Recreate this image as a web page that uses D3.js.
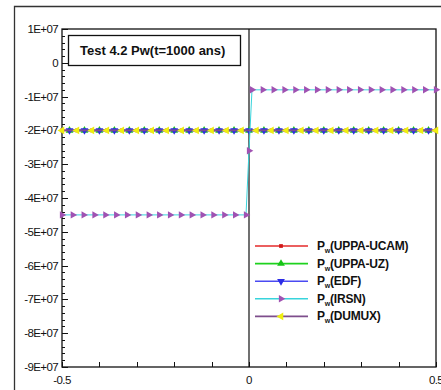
<!DOCTYPE html>
<html>
<head>
<meta charset="utf-8">
<script src="https://cdn.jsdelivr.net/npm/d3@7"></script>
<style>
body { margin: 0; background: #fff; }
text { font-family: Arial, "Liberation Sans", sans-serif; }
</style>
</head>
<body>
<div class="chart"></div>
<script>
// values
var xTicks = [-0.5, -0.4, -0.3, -0.2, -0.1, 0, 0.1, 0.2, 0.3, 0.4, 0.5];
var xLabels = ["-0.5", "0", "0.5"];
var yLabels = ["1E+07", "0", "-1E+07", "-2E+07", "-3E+07", "-4E+07", "-5E+07", "-6E+07", "-7E+07", "-8E+07", "-9E+07"];
var yMajor = [1e7, 0, -1e7, -2e7, -3e7, -4e7, -5e7, -6e7, -7e7, -8e7, -9e7];

var gridA = [-0.5, -0.46, -0.42, -0.38, -0.34, -0.3, -0.26, -0.22, -0.18, -0.14, -0.1, -0.06, -0.02,
             0.02, 0.06, 0.1, 0.14, 0.18, 0.22, 0.26, 0.3, 0.34, 0.38, 0.42, 0.46, 0.5];
var gridB = [-0.48, -0.44, -0.4, -0.36, -0.32, -0.28, -0.24, -0.2, -0.16, -0.12, -0.08, -0.04, 0,
             0.04, 0.08, 0.12, 0.16, 0.2, 0.24, 0.28, 0.32, 0.36, 0.4, 0.44, 0.48];
var pConst = [-2e7, -2e7, -2e7, -2e7, -2e7, -2e7, -2e7, -2e7, -2e7, -2e7, -2e7, -2e7, -2e7,
              -2e7, -2e7, -2e7, -2e7, -2e7, -2e7, -2e7, -2e7, -2e7, -2e7, -2e7, -2e7, -2e7];

var irsnX = [-0.5, -0.471, -0.442, -0.413, -0.384, -0.355, -0.326, -0.297, -0.268, -0.240, -0.211,
             -0.182, -0.153, -0.124, -0.095, -0.066, -0.037, -0.008, 0,
             0.008, 0.037, 0.066, 0.095, 0.124, 0.153, 0.182, 0.211, 0.240, 0.268, 0.297, 0.326,
             0.355, 0.384, 0.413, 0.442, 0.471, 0.5];
var irsnP = [-4.5e7, -4.5e7, -4.5e7, -4.5e7, -4.5e7, -4.5e7, -4.5e7, -4.5e7, -4.5e7, -4.5e7, -4.5e7,
             -4.5e7, -4.5e7, -4.5e7, -4.5e7, -4.5e7, -4.5e7, -4.5e7, -2.6e7,
             -0.8e7, -0.8e7, -0.8e7, -0.8e7, -0.8e7, -0.8e7, -0.8e7, -0.8e7, -0.8e7, -0.8e7, -0.8e7, -0.8e7,
             -0.8e7, -0.8e7, -0.8e7, -0.8e7, -0.8e7, -0.8e7];

var seriesNames = ["UPPA-UCAM", "UPPA-UZ", "EDF", "IRSN", "DUMUX"];

var series = [
  {name: seriesNames[0], xs: gridA, ys: pConst, line: "#e42a2a", mark: "#d01818", sym: "square", ms: 14, lw: 1.6},
  {name: seriesNames[1], xs: gridB, ys: pConst, line: "#1ed21e", mark: "#16c416", sym: "up", ms: 26, lw: 1.6},
  {name: seriesNames[2], xs: gridB, ys: pConst, line: "#4a4af2", mark: "#2c2ce6", sym: "down", ms: 26, lw: 1.6},
  {name: seriesNames[3], xs: irsnX, ys: irsnP, line: "#38d4dc", mark: "#a052b2", sym: "right", ms: 24, lw: 1},
  {name: seriesNames[4], xs: gridA, ys: pConst, line: "#7e4e8c", mark: "#eeee10", sym: "left", ms: 26, lw: 1.6}
];

var svg = d3.select(".chart").append("svg")
    .attr("width", 441)
    .attr("height", 390);

var x = d3.scaleLinear().domain([-0.5, 0.5]).range([62, 436]);
var y = d3.scaleLinear().domain([1e7, -9e7]).range([29, 367]);

// outer frame
svg.append("path")
    .attr("d", "M14.5,392 V6.5 H445")
    .attr("fill", "none")
    .attr("stroke", "#333")
    .attr("stroke-width", 1.3);

// plot box
svg.append("rect")
    .attr("x", 62).attr("y", 29)
    .attr("width", 374).attr("height", 338)
    .attr("fill", "none")
    .attr("stroke", "#111")
    .attr("stroke-width", 1.3);

// y ticks (major and minor, inside)
var yMinor = d3.range(0, 51).map(function(i) { return 1e7 - i * 2e6; });
svg.selectAll(".ymin").data(yMinor).enter().append("line")
    .attr("x1", 62).attr("x2", function(d, i) { return i % 5 == 0 ? 68 : 65; })
    .attr("y1", function(d) { return Math.round(y(d)) + 0.5; })
    .attr("y2", function(d) { return Math.round(y(d)) + 0.5; })
    .attr("stroke", "#111");

svg.selectAll(".ylab").data(yMajor).enter().append("text")
    .attr("x", 58)
    .attr("y", function(d) { return y(d) + 4; })
    .attr("text-anchor", "end")
    .attr("font-size", 11.5)
    .attr("letter-spacing", -0.6)
    .attr("fill", "#111")
    .text(function(d, i) { return yLabels[i]; });

// x ticks
svg.selectAll(".xt").data(xTicks).enter().append("line")
    .attr("x1", function(d) { return Math.round(x(d)) + 0.5; })
    .attr("x2", function(d) { return Math.round(x(d)) + 0.5; })
    .attr("y1", 367).attr("y2", 362)
    .attr("stroke", "#111");

svg.selectAll(".xlab").data([-0.5, 0, 0.5]).enter().append("text")
    .attr("x", function(d) { return x(d); })
    .attr("y", 384)
    .attr("text-anchor", "middle")
    .attr("font-size", 11.5)
    .attr("letter-spacing", -0.6)
    .attr("fill", "#111")
    .text(function(d, i) { return xLabels[i]; });

// vertical line at x = 0
svg.append("line")
    .attr("x1", x(0)).attr("x2", x(0))
    .attr("y1", 29).attr("y2", 367)
    .attr("stroke", "#111")
    .attr("stroke-width", 1.2);

function symbolPath(sym, size) {
  if (sym == "square") return d3.symbol().type(d3.symbolSquare).size(size)();
  return d3.symbol().type(d3.symbolTriangle).size(size)();
}
var rot = {square: 0, up: 0, down: 180, right: 90, left: -90};

var plot = svg.append("g");
var lineGen = d3.line();

series.forEach(function(s) {
  var pts = s.xs.map(function(v, i) { return [x(v), y(s.ys[i])]; });
  plot.append("path")
      .attr("d", lineGen(pts))
      .attr("fill", "none")
      .attr("stroke", s.line)
      .attr("stroke-width", s.lw);
  plot.selectAll(null).data(pts).enter().append("path")
      .attr("d", symbolPath(s.sym, s.ms))
      .attr("transform", function(d) { return "translate(" + d[0] + "," + d[1] + ") rotate(" + rot[s.sym] + ")"; })
      .attr("fill", s.mark);
});

// title box
svg.append("rect")
    .attr("x", 68.5).attr("y", 35.5)
    .attr("width", 172).attr("height", 30)
    .attr("fill", "#fff")
    .attr("stroke", "#111")
    .attr("stroke-width", 1.3);
svg.append("text")
    .attr("x", 80).attr("y", 55)
    .attr("font-size", 13)
    .attr("font-weight", "bold")
    .attr("fill", "#111")
    .text("Test 4.2 Pw(t=1000 ans)");

// legend
var legend = svg.selectAll(".leg").data(series).enter().append("g")
    .attr("transform", function(d, i) { return "translate(255," + (246 + i * 17.6) + ")"; });
legend.append("line")
    .attr("x1", 0).attr("x2", 53)
    .attr("stroke", function(d) { return d.line; })
    .attr("stroke-width", 1.6);
legend.append("path")
    .attr("d", function(d) { return symbolPath(d.sym, d.ms); })
    .attr("transform", function(d) { return "translate(26,0) rotate(" + rot[d.sym] + ")"; })
    .attr("fill", function(d) { return d.mark; });
var lt = legend.append("text")
    .attr("x", 62).attr("y", 4)
    .attr("font-size", 12)
    .attr("font-weight", "bold")
    .attr("letter-spacing", -0.2)
    .attr("fill", "#111");
lt.append("tspan").text("P");
lt.append("tspan").attr("dy", 3).attr("font-size", 7).text("w");
lt.append("tspan").attr("dy", -3).text(function(d) { return "(" + d.name + ")"; });
</script>
</body>
</html>
